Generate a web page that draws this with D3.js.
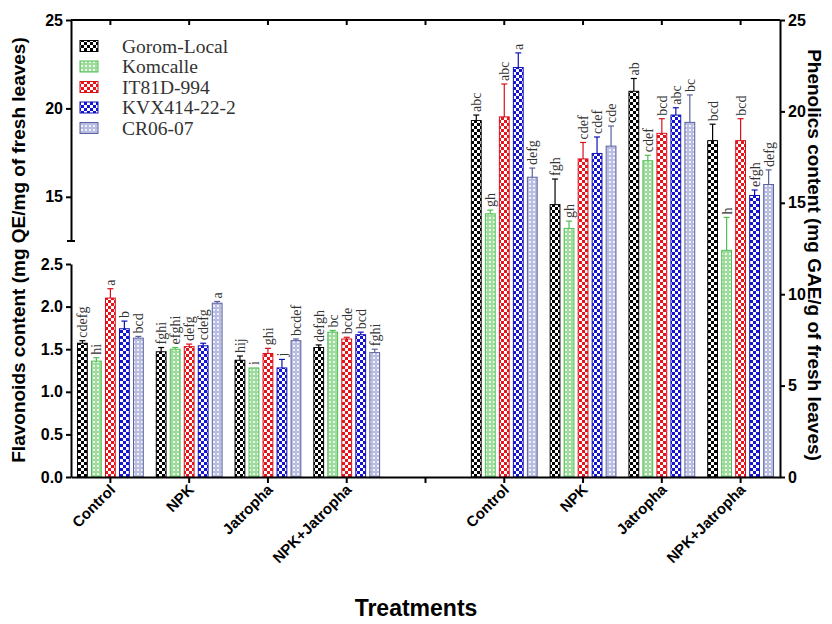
<!DOCTYPE html>
<html><head><meta charset="utf-8">
<script src="https://cdn.jsdelivr.net/npm/d3@7/dist/d3.min.js"></script>
<style>body{margin:0;background:#fff}svg{display:block}</style>
</head><body><svg id="c" width="832" height="624"></svg>
<script>
const treatments = ["Control","NPK","Jatropha","NPK+Jatropha"];
const cultivars = ["Gorom-Local","Komcalle","IT81D-994","KVX414-22-2","CR06-07"];
// rows = treatments, columns = cultivars
const flavonoids = [[1.57,1.36,2.10,1.74,1.63],[1.47,1.50,1.53,1.54,2.04],[1.37,1.28,1.45,1.28,1.60],[1.52,1.70,1.62,1.67,1.46]];
const flavErr    = [[0.03,0.04,0.11,0.09,0.02],[0.05,0.02,0.03,0.03,0.02],[0.05,0.00,0.06,0.10,0.02],[0.03,0.02,0.02,0.03,0.04]];
const flavLetters= [["cdefg","hi","a","b","bcd"],["fghi","efghi","defg","cdefg","a"],["hij","i","ghi","j","bcdef"],["defgh","bc","bcde","bcd","fghi"]];
const phenolics  = [[19.5,14.4,19.7,22.4,16.4],[14.9,13.6,17.4,17.7,18.1],[21.1,17.3,18.8,19.8,19.4],[18.4,12.4,18.4,15.4,16.0]];
const phenErr    = [[0.3,0.2,1.8,0.8,0.5],[1.4,0.4,0.9,0.9,1.1],[0.7,0.3,0.8,0.4,1.5],[0.9,1.8,1.2,0.3,0.8]];
const phenLetters= [["abc","gh","abc","a","defg"],["fgh","gh","cdef","cdef","cde"],["ab","cdef","bcd","abc","bc"],["bcd","h","bcd","efgh","defg"]];
const leftUpperTicks = [15,20,25];
const leftLowerTicks = [0,0.5,1.0,1.5,2.0,2.5];
const rightTicks = [0,5,10,15,20,25];

const fills   = ["#000000","#9edc9e","#e8141c","#1414d2","#b9bde2"];
const strokes = ["#000000","#4fbf4f","#d8101a","#1010b8","#5c619c"];

const svg = d3.select("#c");
const defs = svg.append("defs");
[0,2,3].forEach(i=>{
  const p = defs.append("pattern").attr("id","p"+i).attr("patternUnits","userSpaceOnUse").attr("width",6).attr("height",6);
  p.append("rect").attr("width",6).attr("height",6).attr("fill","#fff");
  p.append("rect").attr("width",3).attr("height",3).attr("fill",fills[i]);
  p.append("rect").attr("x",3).attr("y",3).attr("width",3).attr("height",3).attr("fill",fills[i]);
});
[1,4].forEach(i=>{
  const p = defs.append("pattern").attr("id","p"+i).attr("patternUnits","userSpaceOnUse").attr("width",4).attr("height",4);
  p.append("rect").attr("width",4).attr("height",4).attr("fill",fills[i]);
  p.append("circle").attr("cx",2).attr("cy",2).attr("r",1.1).attr("fill","#fff");
});

const L = 71, R = 780, TOP = 20, BOT = 477;
const x = d3.scaleBand().domain(d3.range(9)).range([L,R]);
const inner = d3.scaleBand().domain(d3.range(5)).range([0,70]).paddingInner(0.3).paddingOuter(0.15);
const yLow = d3.scaleLinear().domain([0,2.5]).range([BOT,264]);
const yUp  = d3.scaleLinear().domain([12.5,25]).range([241,TOP]);
const yR   = d3.scaleLinear().domain([0,25]).range([BOT,TOP]);

function drawGroup(slot, vals, errs, letters, y){
  const g0 = x(slot) + (x.bandwidth()-70)/2;
  vals.forEach((v,i)=>{
    const bx = g0 + inner(i), bw = inner.bandwidth(), cx = bx + bw/2;
    const yt = y(v), ye = y(v+errs[i]);
    svg.append("rect").attr("x",bx).attr("y",yt).attr("width",bw).attr("height",y(0)-yt)
      .attr("fill","url(#p"+i+")").attr("stroke",strokes[i]).attr("stroke-width",1);
    if (errs[i] > 0) {
      svg.append("line").attr("x1",cx).attr("x2",cx).attr("y1",yt).attr("y2",ye).attr("stroke",strokes[i]).attr("stroke-width",1.2);
      svg.append("line").attr("x1",cx-3).attr("x2",cx+3).attr("y1",ye).attr("y2",ye).attr("stroke",strokes[i]).attr("stroke-width",1.2);
    }
    svg.append("text").attr("transform",`translate(${cx},${ye-3}) rotate(-90)`)
      .attr("dy","0.35em").attr("text-anchor","start")
      .attr("font-family","'Liberation Serif','Times New Roman',serif").attr("font-size",14).attr("fill","#333")
      .text(letters[i]);
  });
}
treatments.forEach((t,k)=>{
  drawGroup(k, flavonoids[k], flavErr[k], flavLetters[k], yLow);
  drawGroup(k+5, phenolics[k], phenErr[k], phenLetters[k], yR);
});

const axisFont = "'Liberation Sans',Arial,sans-serif";
function styleAxis(g){
  g.selectAll("path,line").attr("stroke","#000").attr("stroke-width",2);
  g.selectAll("text").attr("font-family",axisFont).attr("font-weight","bold").attr("font-size",16).attr("fill","#000");
}
svg.append("g").attr("transform",`translate(${L},0)`)
  .call(d3.axisLeft(yUp).tickValues(leftUpperTicks).tickFormat(d3.format("d")).tickSize(5).tickSizeOuter(0)).call(styleAxis);
svg.append("line").attr("x1",L-4).attr("x2",L+4).attr("y1",241).attr("y2",241).attr("stroke","#000").attr("stroke-width",2);
svg.append("g").attr("transform",`translate(${L},0)`)
  .call(d3.axisLeft(yLow).tickValues(leftLowerTicks).tickFormat(d3.format(".1f")).tickSize(5).tickSizeOuter(0)).call(styleAxis);
svg.append("g").attr("transform",`translate(${R},0)`)
  .call(d3.axisRight(yR).tickValues(rightTicks).tickFormat(d3.format("d")).tickSize(5).tickSizeOuter(0)).call(styleAxis);
const xLabels = [...treatments, "", ...treatments];
const xb = svg.append("g").attr("transform",`translate(0,${BOT})`)
  .call(d3.axisBottom(x).tickFormat(i=>xLabels[i]).tickSize(6).tickSizeOuter(0)).call(styleAxis);
xb.selectAll("text").attr("font-size",15).attr("text-anchor","end")
  .attr("transform","translate(2,10) rotate(-45)").attr("dy","0.35em").attr("y",0).attr("x",0);
const xt = svg.append("g").attr("transform",`translate(0,${TOP})`)
  .call(d3.axisBottom(x).tickFormat("").tickSize(5).tickSizeOuter(0)).call(styleAxis);
xt.select("path").remove();
svg.append("line").attr("x1",L).attr("x2",R).attr("y1",TOP).attr("y2",TOP).attr("stroke","#000").attr("stroke-width",2);

svg.append("text").attr("transform","translate(25,250) rotate(-90)").attr("text-anchor","middle")
  .attr("font-family",axisFont).attr("font-weight","bold").attr("font-size",19).text("Flavonoids content (mg QE/mg of fresh leaves)");
svg.append("text").attr("transform","translate(808,255) rotate(90)").attr("text-anchor","middle")
  .attr("font-family",axisFont).attr("font-weight","bold").attr("font-size",19).text("Phenolics content (mg GAE/g of fresh leaves)");
svg.append("text").attr("x",416).attr("y",616).attr("text-anchor","middle")
  .attr("font-family",axisFont).attr("font-weight","bold").attr("font-size",23).text("Treatments");

const lg = svg.append("g");
cultivars.forEach((c,i)=>{
  const yy = 46 + i*20.5;
  lg.append("rect").attr("x",80).attr("y",yy-5.5).attr("width",18).attr("height",11)
    .attr("fill","url(#p"+i+")").attr("stroke",strokes[i]).attr("stroke-width",1);
  lg.append("text").attr("x",122).attr("y",yy).attr("dy","0.35em")
    .attr("font-family","'Liberation Serif','Times New Roman',serif").attr("font-size",19.5).attr("fill","#333").text(c);
});
</script></body></html>
